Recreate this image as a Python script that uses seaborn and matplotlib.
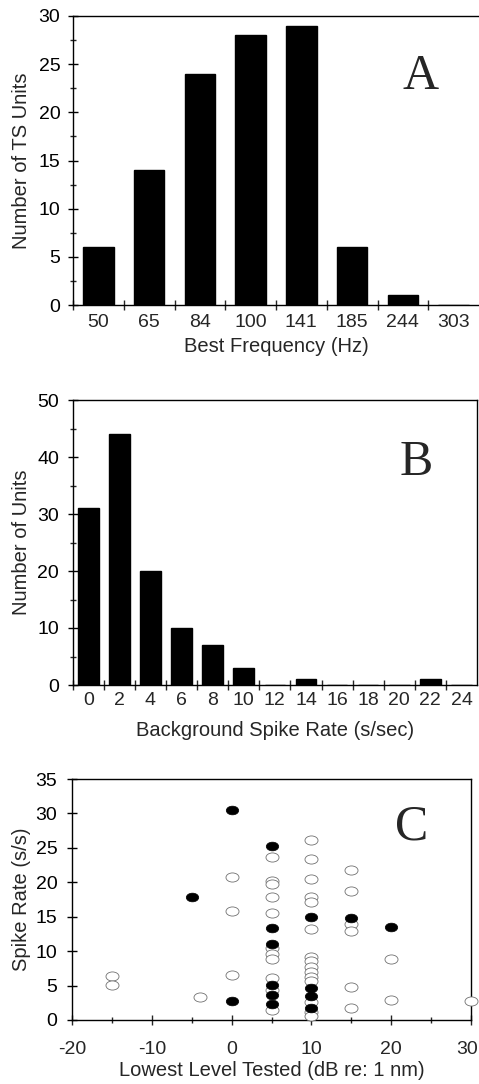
import numpy as np
import pandas as pd
import matplotlib
matplotlib.use("Agg")
import matplotlib.pyplot as plt
from matplotlib.path import Path
from matplotlib.ticker import MultipleLocator, FixedLocator, NullFormatter
from matplotlib.transforms import ScaledTranslation
import seaborn as sns

# ---------------- data ----------------
bf_labels = ["50", "65", "84", "100", "141", "185", "244", "303"]
bf_counts = [6, 14, 24, 28, 29, 6, 1, 0]

bg_labels = ["0", "2", "4", "6", "8", "10", "12", "14", "16", "18", "20", "22", "24"]
bg_counts = [31, 44, 20, 10, 7, 3, 0, 1, 0, 0, 0, 1, 0]

filled_x = [0, 0, -5, 5, 5, 5, 5, 5, 5, 10, 10, 10, 10, 15, 20]
filled_y = [30.5, 2.8, 17.9, 25.2, 13.3, 11.0, 5.1, 3.6, 2.3, 15.0, 4.6, 3.5, 1.7, 14.8, 13.5]

open_x = [-15, -15, -4, 0, 0, 0,
          5, 5, 5, 5, 5, 5, 5, 5, 5, 5, 5,
          10, 10, 10, 10, 10, 10, 10, 10, 10, 10, 10, 10, 10, 10, 10,
          15, 15, 15, 15, 15, 15,
          20, 20, 30]
open_y = [6.4, 5.1, 3.3, 20.7, 15.8, 6.5,
          23.6, 20.2, 19.7, 17.8, 15.6, 10.4, 9.6, 8.9, 6.1, 4.3, 1.5,
          26.2, 23.4, 20.5, 17.9, 17.2, 13.2, 9.2, 8.5, 7.7, 7.0, 6.3, 5.6, 2.6, 1.1, 0.6,
          21.8, 18.7, 14.0, 12.9, 4.8, 1.7,
          8.9, 2.9, 2.7]

# ---------------- style ----------------
sns.set_theme(style="ticks")
plt.rcParams["font.family"] = ["Liberation Sans", "DejaVu Sans"]
plt.rcParams["axes.linewidth"] = 1.0
plt.rcParams["axes.unicode_minus"] = False

W, H = 479, 1084
fig = plt.figure(figsize=(W / 100, H / 100), dpi=100)


def px_axes(left, top, right, bottom):
    return fig.add_axes([left / W, 1 - bottom / H, (right - left) / W, (bottom - top) / H])


TICK_FS = 14
LAB_FS = 14.5


def style_y(ax, major, minor, pad):
    ax.yaxis.set_major_locator(MultipleLocator(major))
    ax.yaxis.set_minor_locator(MultipleLocator(minor))
    ax.tick_params(axis="y", which="major", direction="inout", length=7.2, width=1.0,
                   labelsize=TICK_FS, pad=pad, colors="black")
    ax.tick_params(axis="y", which="minor", direction="inout", length=4.3, width=1.0)


def style_cat_x(ax, n, pad):
    ax.set_xlim(-0.5, n - 0.5)
    ax.xaxis.set_major_locator(FixedLocator(list(range(n))))
    ax.xaxis.set_minor_locator(FixedLocator([k - 0.5 for k in range(n)]))
    ax.xaxis.set_minor_formatter(NullFormatter())
    ax.tick_params(axis="x", which="major", length=0, labelsize=TICK_FS, pad=pad)
    ax.tick_params(axis="x", which="minor", direction="inout", length=7.2, width=1.0)


# ---------------- Panel A ----------------
axA = px_axes(73, 16, 479, 305)
dfA = pd.DataFrame({"bf": bf_labels, "n": bf_counts})
sns.barplot(data=dfA, x="bf", y="n", order=bf_labels, color="black", width=0.6,
            edgecolor="black", linewidth=1.0, saturation=1, ax=axA)
axA.set_ylim(0, 30)
style_y(axA, 5, 2.5, 5.5)
style_cat_x(axA, len(bf_labels), 6.5)
axA.spines["right"].set_visible(False)
axA.set_xlabel("Best Frequency (Hz)", fontsize=LAB_FS, va="top")
axA.set_ylabel("Number of TS Units", fontsize=LAB_FS)
axA.xaxis.set_label_coords(0.5, -(337 - 305) / 289)
axA.yaxis.set_label_coords(-(73 - 31) / 406, 0.5)
axA.text(0.855, 0.79, "A", transform=axA.transAxes, fontsize=36,
         family="Liberation Serif", ha="center", va="center")

# ---------------- Panel B ----------------
axB = px_axes(72.7, 400, 477, 685)
dfB = pd.DataFrame({"bg": bg_labels, "n": bg_counts})
sns.barplot(data=dfB, x="bg", y="n", order=bg_labels, color="black", width=0.66,
            edgecolor="black", linewidth=1.0, saturation=1, ax=axB)
axB.set_ylim(0, 50)
style_y(axB, 10, 5, 6.3)
style_cat_x(axB, len(bg_labels), 5.0)
axB.set_xlabel("Background Spike Rate (s/sec)", fontsize=LAB_FS, va="top")
axB.set_ylabel("Number of Units", fontsize=LAB_FS)
axB.xaxis.set_label_coords(0.5, -(721 - 685) / 285)
axB.yaxis.set_label_coords(-(72.7 - 31) / 404.3, 0.5)
axB.text(0.85, 0.78, "B", transform=axB.transAxes, fontsize=36,
         family="Liberation Serif", ha="center", va="center")

# ---------------- Panel C ----------------
axC = px_axes(72, 779, 471, 1020)
ell = Path.unit_circle()
ellipse = Path(ell.vertices * np.array([1.0, 0.70]), ell.codes)

dfO = pd.DataFrame({"x": open_x, "y": open_y})
dfF = pd.DataFrame({"x": filled_x, "y": filled_y})
sns.scatterplot(data=dfO, x="x", y="y", marker=ellipse, s=88, facecolor="white",
                edgecolor="#707070", linewidth=0.6, ax=axC, zorder=3, clip_on=False)
sns.scatterplot(data=dfF, x="x", y="y", marker=ellipse, s=80, color="black",
                edgecolor="black", linewidth=0.5, ax=axC, zorder=4, clip_on=False)
axC.set_xlim(-20, 30)
axC.set_ylim(0, 35)
style_y(axC, 5, 5, 7.0)
axC.xaxis.set_major_locator(MultipleLocator(10))
axC.xaxis.set_minor_locator(MultipleLocator(5))
axC.tick_params(axis="x", which="major", direction="inout", length=7.2, width=1.0,
                labelsize=TICK_FS, pad=11.5)
axC.tick_params(axis="x", which="minor", direction="inout", length=5, width=1.0)
axC.set_xlabel("Lowest Level Tested (dB re: 1 nm)", fontsize=LAB_FS, va="top")
axC.set_ylabel("Spike Rate (s/s)", fontsize=LAB_FS)
axC.xaxis.set_label_coords(0.5, -(1061 - 1020) / 241)
axC.yaxis.set_label_coords(-(72 - 31) / 399, 0.5)
axC.text(0.85, 0.80, "C", transform=axC.transAxes, fontsize=36,
         family="Liberation Serif", ha="center", va="center")

for ax in (axA, axB, axC):
    for sp in ax.spines.values():
        sp.set_color("black")
    ax.set_facecolor("white")

# keep the right-most "30" label inside the figure (reference shows it touching the edge)
fig.canvas.draw()
for tick in axC.xaxis.get_major_ticks():
    if abs(tick.get_loc() - 30) < 1e-6:
        lab = tick.label1
        lab.set_horizontalalignment("right")
        lab.set_transform(lab.get_transform() + ScaledTranslation(7 / 100, 0, fig.dpi_scale_trans))

fig.savefig("out.png", dpi=100, facecolor="white")
